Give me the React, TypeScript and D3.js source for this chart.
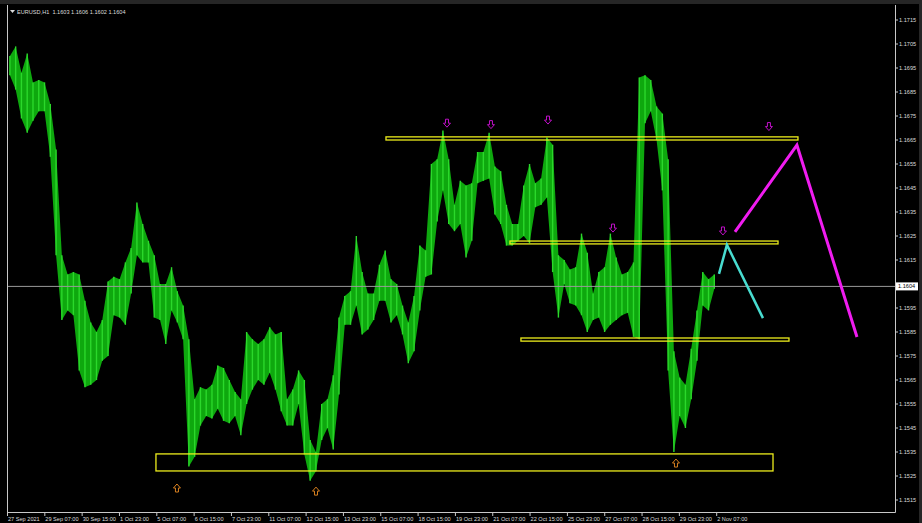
import React from 'react';
import * as d3 from 'd3';

const W = 922;
const H = 523;

// each sample covers ~5 hourly bars (high / low of the block)
const BARS_PER_SAMPLE = 4.95;

const highs = [
  1.17, 1.1704, 1.1693, 1.1701, 1.1689, 1.169, 1.1689, 1.168, 1.1661, 1.1617,
  1.1609, 1.161, 1.1609, 1.1598, 1.1589, 1.1585, 1.159, 1.1606, 1.1608, 1.1607,
  1.1614, 1.162, 1.1639, 1.163, 1.1623, 1.1617, 1.1605, 1.1605, 1.1612, 1.1602,
  1.1596, 1.1582, 1.1557, 1.1562, 1.1561, 1.1563, 1.1571, 1.157, 1.1565, 1.156,
  1.1557, 1.1585, 1.1582, 1.158, 1.1582, 1.1587, 1.1584, 1.1585, 1.1557, 1.1561,
  1.1569, 1.1565, 1.154, 1.1535, 1.1555, 1.1557, 1.1567, 1.1591, 1.16, 1.1602,
  1.1625, 1.161, 1.1601, 1.1601, 1.1613, 1.1619, 1.1607, 1.1605, 1.1596, 1.1589,
  1.16, 1.1621, 1.1619, 1.1655, 1.1657, 1.1669, 1.1657, 1.1638, 1.1648, 1.1646,
  1.1647, 1.166, 1.166, 1.1668, 1.1654, 1.1652, 1.1638, 1.163, 1.163, 1.1646,
  1.1655, 1.1647, 1.1649, 1.1666, 1.1663, 1.1617, 1.1615, 1.1611, 1.1612, 1.1626,
  1.1618, 1.1601, 1.161, 1.1612, 1.1626, 1.1616, 1.1609, 1.161, 1.1614, 1.1691,
  1.1692, 1.169, 1.1679, 1.1676, 1.1657, 1.1577, 1.1566, 1.1563, 1.1578, 1.1594,
  1.161, 1.1607, 1.1609,
];

const lows = [
  1.1692, 1.1686, 1.1674, 1.1668, 1.1673, 1.1677, 1.1677, 1.1658, 1.1617, 1.159,
  1.1594, 1.1592, 1.1569, 1.1562, 1.1563, 1.1565, 1.1573, 1.1575, 1.1592, 1.1591,
  1.1588, 1.1601, 1.1617, 1.1614, 1.1614, 1.1591, 1.159, 1.158, 1.1594, 1.1589,
  1.1582, 1.1529, 1.1533, 1.1546, 1.155, 1.1549, 1.1553, 1.1548, 1.1547, 1.155,
  1.1542, 1.1555, 1.1561, 1.1565, 1.1563, 1.1568, 1.1561, 1.1552, 1.1546, 1.1546,
  1.1555, 1.1534, 1.1523, 1.1527, 1.154, 1.1545, 1.1536, 1.1559, 1.1588, 1.1588,
  1.1596, 1.1584, 1.1586, 1.159, 1.1598, 1.1598, 1.1589, 1.1592, 1.1584, 1.1572,
  1.1577, 1.1594, 1.1608, 1.1609, 1.1631, 1.1644, 1.163, 1.1627, 1.163, 1.1616,
  1.1623, 1.1647, 1.1648, 1.1649, 1.1634, 1.163, 1.1621, 1.1621, 1.1623, 1.1625,
  1.1622, 1.1637, 1.1638, 1.1641, 1.161, 1.1591, 1.1605, 1.1597, 1.1596, 1.1592,
  1.1585, 1.159, 1.1591, 1.1585, 1.1588, 1.159, 1.1592, 1.1593, 1.1583, 1.1582,
  1.1672, 1.1677, 1.1665, 1.1644, 1.1569, 1.1535, 1.155, 1.1545, 1.1557, 1.1573,
  1.1596, 1.1594, 1.1603,
];

const timeLabels = [
  '27 Sep 2021', '29 Sep 07:00', '30 Sep 15:00', '1 Oct 23:00', '5 Oct 07:00',
  '6 Oct 15:00', '7 Oct 23:00', '11 Oct 07:00', '12 Oct 15:00', '13 Oct 23:00',
  '15 Oct 07:00', '18 Oct 15:00', '19 Oct 23:00', '21 Oct 07:00', '22 Oct 15:00',
  '25 Oct 23:00', '27 Oct 07:00', '28 Oct 15:00', '29 Oct 23:00', '2 Nov 07:00',
];
const LABEL_STEP = 32; // bars between time labels

// 1.1605 sits under the current price box in the terminal, so it is not listed
const priceTicks = [
  1.1515, 1.1525, 1.1535, 1.1545, 1.1555, 1.1565, 1.1575, 1.1585, 1.1595,
  1.1615, 1.1625, 1.1635, 1.1645, 1.1655, 1.1665, 1.1675, 1.1685, 1.1695, 1.1705, 1.1715,
];

const lastPrice = 1.1604;
const header = 'EURUSD,H1  1.1603 1.1606 1.1602 1.1604';

// rectangles: [startBar, endBar, top, bottom]
const zones = [
  [324.9, 678.1, 1.16663, 1.1665],
  [431.2, 661, 1.16229, 1.16217],
  [440.6, 670.4, 1.15825, 1.15812],
  [127.7, 656.7, 1.15342, 1.15271],
];

// fractal arrows [bar, price]
const downArrows = [
  [377.2, 1.1672], [414.9, 1.16714], [463.8, 1.16733],
  [519.5, 1.16283], [613.8, 1.16271], [653.2, 1.16706],
];
const upArrows = [
  [145.7, 1.152], [264.9, 1.15187], [573.5, 1.15304],
];

// hand-drawn projections [bar, price]
const cyanPath = [[610.4, 1.16092], [617.2, 1.16213], [648.1, 1.15908]];
const magentaPath = [[624.1, 1.16267], [677.2, 1.16629], [728.7, 1.15829]];

const PL = 7, PR = 895, PT = 5, PB = 512;
const FONT = '"Liberation Sans", Arial, sans-serif';
const FS = 5.6;

export default function App() {
  const x = d3.scaleLinear().domain([0, 608]).range([7, 716.2]);
  const y = d3.scaleLinear().domain([1.1515, 1.1715]).range([500, 20]);

  const sx = (i: number) => x((i + 0.5) * BARS_PER_SAMPLE);

  const band = d3
    .area<number>()
    .x((_, i) => sx(i))
    .y0((_, i) => y(lows[i]))
    .y1((d) => y(d))
    .curve(d3.curveLinear);

  const line = d3
    .line<number[]>()
    .x((d) => x(d[0]))
    .y((d) => y(d[1]));

  const arrowDown = (cx: number, cy: number) =>
    `M${cx - 1.5},${cy - 4} H${cx + 1.5} V${cy} H${cx + 3.5} L${cx},${cy + 4} L${cx - 3.5},${cy} H${cx - 1.5} Z`;
  const arrowUp = (cx: number, cy: number) =>
    `M${cx - 1.5},${cy + 4} H${cx + 1.5} V${cy} H${cx + 3.5} L${cx},${cy - 4} L${cx - 3.5},${cy} H${cx - 1.5} Z`;

  return (
    <svg
      width={W}
      height={H}
      style={{ position: 'fixed', left: 0, top: 0, background: '#000' }}
      fontFamily={FONT}
    >
      <rect width={W} height={H} fill="#000" />
      <rect width={W} height={4} fill="#262626" />
      <rect x={919} width={3} height={H} fill="#262626" />
      <defs>
        <clipPath id="plot">
          <rect x={PL} y={PT} width={PR - PL} height={PB - PT} />
        </clipPath>
      </defs>

      <g clipPath="url(#plot)">
        <path d={band(highs) || ''} fill="#0ea80e" />
        {highs.map((h, i) => (
          <line
            key={i}
            x1={sx(i)}
            x2={sx(i)}
            y1={y(h)}
            y2={y(lows[i])}
            stroke="#2bd82b"
            strokeWidth={1.4}
          />
        ))}

        <line x1={PL} x2={PR} y1={y(lastPrice)} y2={y(lastPrice)} stroke="#9a9a9a" strokeWidth={1} />

        {zones.map((z, i) => (
          <rect
            key={i}
            x={x(z[0])}
            y={y(z[2])}
            width={x(z[1]) - x(z[0])}
            height={Math.max(2.5, y(z[3]) - y(z[2]))}
            fill="none"
            stroke="#eded1c"
            strokeWidth={1.3}
          />
        ))}

        <path d={line(cyanPath) || ''} fill="none" stroke="#48dcd0" strokeWidth={2.5} />
        <path d={line(magentaPath) || ''} fill="none" stroke="#f01cf0" strokeWidth={3} />

        {downArrows.map((a, i) => (
          <path key={i} d={arrowDown(x(a[0]), y(a[1]))} fill="none" stroke="#c010c8" strokeWidth={1} />
        ))}
        {upArrows.map((a, i) => (
          <path key={i} d={arrowUp(x(a[0]), y(a[1]))} fill="none" stroke="#d88020" strokeWidth={1} />
        ))}
      </g>

      {/* frame */}
      <path d={`M${PL + 0.5},${PT} V${PB + 0.5} H${PR + 0.5} V${PT}`} fill="none" stroke="#c8c8c8" strokeWidth={1} />

      {/* price axis */}
      {priceTicks.map((p) => (
        <g key={p}>
          <line x1={PR} x2={PR + 3} y1={y(p)} y2={y(p)} stroke="#c8c8c8" />
          <text x={PR + 4} y={y(p) + 2} fontSize={FS} fill="#dcdcdc">
            {p.toFixed(4)}
          </text>
        </g>
      ))}
      <rect x={PR + 1} y={y(lastPrice) - 4} width={22} height={8} fill="#fff" />
      <text x={PR + 3} y={y(lastPrice) + 2} fontSize={FS} fill="#000">
        {lastPrice.toFixed(4)}
      </text>

      {/* time axis */}
      {timeLabels.map((t, k) => (
        <g key={t}>
          <line x1={x(k * LABEL_STEP) + 0.5} x2={x(k * LABEL_STEP) + 0.5} y1={PB} y2={PB + 4} stroke="#c8c8c8" />
          <text x={x(k * LABEL_STEP) + 1} y={PB + 9} fontSize={FS} fill="#dcdcdc">
            {t}
          </text>
        </g>
      ))}

      {/* header */}
      <path d="M10,10 H15 L12.5,13 Z" fill="#dcdcdc" />
      <text x={17} y={14} fontSize={FS} fill="#dcdcdc" style={{ whiteSpace: 'pre' }}>
        {header}
      </text>
    </svg>
  );
}
